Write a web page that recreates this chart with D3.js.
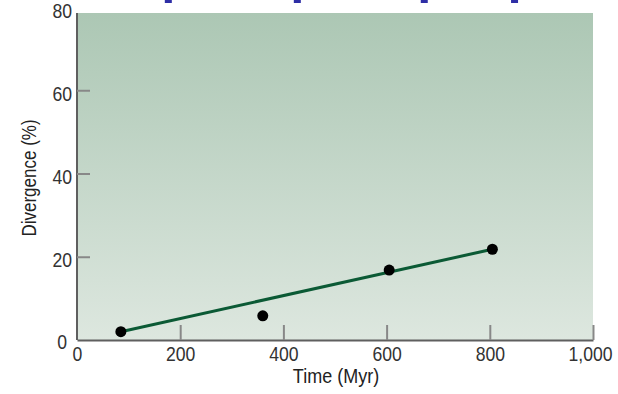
<!DOCTYPE html>
<html lang="en">
<head>
    <meta charset="UTF-8">
    <title>Divergence over Time</title>
    <script src="https://d3js.org/d3.v7.min.js"></script>
    <style>
        body {
            margin: 0;
            background: #fff;
            font-family: "Liberation Sans", Arial, sans-serif;
        }
        svg { display: block; }
        .tick text { fill: #333; font-size: 20px; font-family: "Liberation Sans", Arial, sans-serif; }
        .axis-title { fill: #222; font-size: 20px; }
    </style>
</head>
<body>
    <div id="chart"></div>
    <script>
        // data
        const timeMyr = [85, 360, 605, 805];
        const divergence = [2, 5.8, 16.8, 21.8];
        const fitLine = [[85, 2], [805, 21.8]];
        const xTicks = [0, 200, 400, 600, 800, 1000];
        const yTicks = [0, 20, 40, 60, 80];
        const topMarks = [176, 426, 672, 847]; // cropped bars from figure above

        const W = 618, H = 394;
        const x = d3.scaleLinear().domain([0, 1000]).range([77, 593]);
        const y = d3.scaleLinear().domain([0, 80]).range([340, 7]);
        const plotTop = 13;

        const svg = d3.select("#chart").append("svg")
            .attr("width", W).attr("height", H);

        // squeeze text horizontally to mimic the condensed face
        function condense(sel, k) {
            sel.each(function() {
                const len = this.getComputedTextLength();
                d3.select(this).attr("textLength", len * k).attr("lengthAdjust", "spacingAndGlyphs");
            });
        }

        // background gradient
        const grad = svg.append("defs").append("linearGradient")
            .attr("id", "bg").attr("x1", 0).attr("y1", 0).attr("x2", 0).attr("y2", 1);
        grad.append("stop").attr("offset", "0%").attr("stop-color", "#acc7b4");
        grad.append("stop").attr("offset", "100%").attr("stop-color", "#dde7df");

        svg.append("rect")
            .attr("x", x(0)).attr("y", plotTop)
            .attr("width", x(1000) - x(0)).attr("height", y(0) - plotTop)
            .attr("fill", "url(#bg)");

        // blue fragments at the very top
        svg.selectAll(".top-mark")
            .data(topMarks)
            .enter().append("rect")
            .attr("x", d => x(d) - 3).attr("y", 0)
            .attr("width", 7).attr("height", 3)
            .attr("fill", "#2e2ea6");

        // x axis
        const xAxis = svg.append("g")
            .attr("transform", `translate(0,${y(0)})`)
            .call(d3.axisBottom(x).tickValues(xTicks).tickSizeInner(-15).tickSizeOuter(0)
                .tickFormat(d3.format(",")));
        xAxis.select(".domain").attr("stroke", "#5f5f5f").attr("stroke-width", 2);
        xAxis.selectAll(".tick line").attr("stroke", "#888").attr("stroke-width", 2)
            .filter(d => d === 0).remove();
        xAxis.selectAll(".tick text").attr("y", 21).attr("dy", 0)
            .call(condense, 0.88);
        // keep the last label inside the window
        xAxis.selectAll(".tick").filter(d => d === 1000).select("text")
            .attr("text-anchor", "end").attr("x", 19);

        // y axis
        const yAxis = svg.append("g")
            .attr("transform", `translate(${x(0)},0)`)
            .call(d3.axisLeft(y).tickValues(yTicks).tickSizeInner(-13).tickSizeOuter(0));
        yAxis.select(".domain").attr("stroke", "#5f5f5f").attr("stroke-width", 2)
            .attr("d", `M0,${plotTop}V${y(0)}`);
        yAxis.selectAll(".tick line").attr("stroke", "#888").attr("stroke-width", 2)
            .filter(d => d === 0 || d === 80).remove();
        yAxis.selectAll(".tick text").attr("x", -5).attr("dy", 10)
            .call(condense, 0.88);
        yAxis.selectAll(".tick").filter(d => d === 0).select("text")
            .attr("x", -10).attr("dy", 8);

        // fit line
        svg.append("path")
            .datum(fitLine)
            .attr("fill", "none")
            .attr("stroke", "#0b5a35")
            .attr("stroke-width", 3)
            .attr("d", d3.line().x(d => x(d[0])).y(d => y(d[1])));

        // points
        svg.selectAll(".pt")
            .data(timeMyr.map((t, i) => [t, divergence[i]]))
            .enter().append("circle")
            .attr("cx", d => x(d[0])).attr("cy", d => y(d[1]))
            .attr("r", 5.5).attr("fill", "#000");

        // axis titles
        svg.append("text").attr("class", "axis-title")
            .attr("x", 336).attr("y", 383)
            .attr("text-anchor", "middle").text("Time (Myr)")
            .call(condense, 0.9);
        svg.append("text").attr("class", "axis-title")
            .attr("transform", "translate(36,178) rotate(-90)")
            .attr("text-anchor", "middle").text("Divergence (%)")
            .call(condense, 0.85);
    </script>
</body>
</html>
